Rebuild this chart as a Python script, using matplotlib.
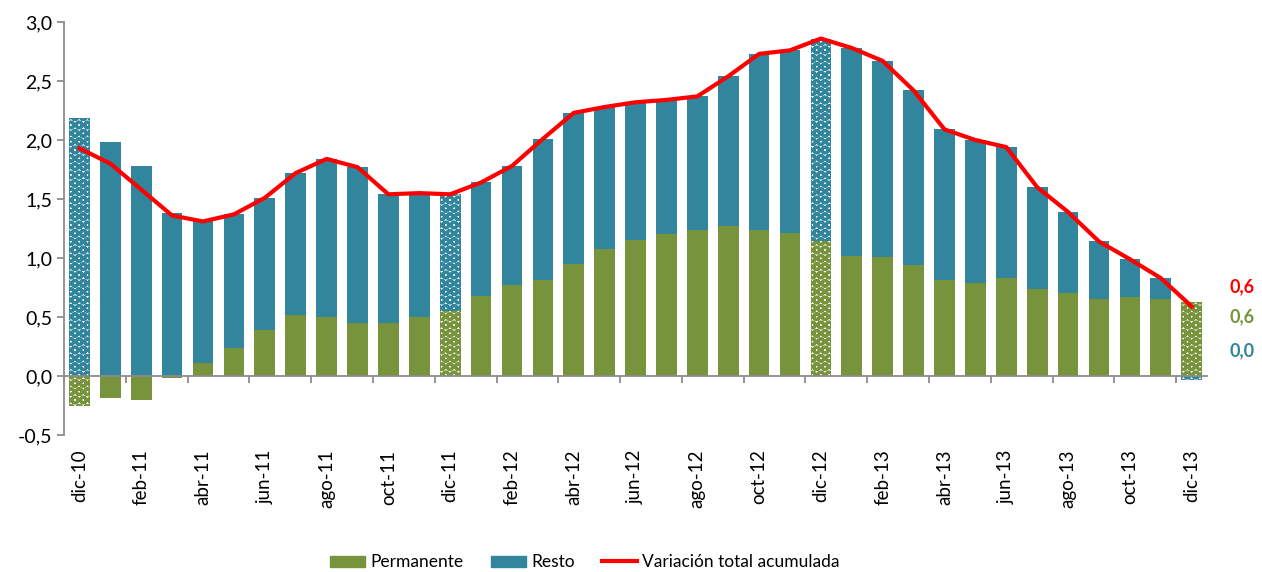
import matplotlib
matplotlib.use("Agg")
import matplotlib.pyplot as plt
import numpy as np

# Meses (dic-10 .. dic-13)
months = ["dic-10", "ene-11", "feb-11", "mar-11", "abr-11", "may-11", "jun-11",
          "jul-11", "ago-11", "sep-11", "oct-11", "nov-11", "dic-11", "ene-12",
          "feb-12", "mar-12", "abr-12", "may-12", "jun-12", "jul-12", "ago-12",
          "sep-12", "oct-12", "nov-12", "dic-12", "ene-13", "feb-13", "mar-13",
          "abr-13", "may-13", "jun-13", "jul-13", "ago-13", "sep-13", "oct-13",
          "nov-13", "dic-13"]

permanente = [-0.25, -0.19, -0.20, -0.02, 0.11, 0.24, 0.39, 0.52, 0.50, 0.45,
              0.45, 0.50, 0.55, 0.68, 0.77, 0.81, 0.95, 1.08, 1.15, 1.20,
              1.24, 1.27, 1.24, 1.21, 1.14, 1.02, 1.01, 0.94, 0.81, 0.79,
              0.83, 0.74, 0.70, 0.655, 0.67, 0.655, 0.625]

resto = [2.19, 1.98, 1.78, 1.38, 1.20, 1.13, 1.12, 1.20, 1.34, 1.32,
         1.09, 1.05, 0.99, 0.96, 1.01, 1.20, 1.28, 1.20, 1.17, 1.14,
         1.13, 1.27, 1.49, 1.55, 1.72, 1.76, 1.66, 1.48, 1.28, 1.21,
         1.11, 0.86, 0.69, 0.485, 0.32, 0.175, -0.03]

total = [1.93, 1.80, 1.58, 1.36, 1.31, 1.37, 1.51, 1.72, 1.84, 1.77,
         1.54, 1.55, 1.54, 1.64, 1.78, 2.01, 2.23, 2.28, 2.32, 2.34,
         2.37, 2.54, 2.73, 2.76, 2.86, 2.78, 2.67, 2.42, 2.09, 2.00,
         1.94, 1.60, 1.39, 1.14, 0.99, 0.83, 0.59]

final_labels = ["0,6", "0,6", "0,0"]

green = "#77933C"
teal = "#31859C"
red = "#FF0000"
gray = "#8C8C8C"

plt.rcParams['font.family'] = ['Lato', 'DejaVu Sans']
plt.rcParams['hatch.linewidth'] = 2.2

fig = plt.figure(figsize=(12.62, 5.72), dpi=100)
ax = fig.add_axes([0.0507, 0.2395, 0.9058, 0.722])

x = np.arange(len(months))
perm = np.array(permanente)
rest = np.array(resto)
rest_bottom = np.where(rest >= 0, np.maximum(perm, 0), np.minimum(perm, 0))
w = 0.67

for i in x:
    dec = months[i].startswith("dic")
    for val, bot, col in [(perm[i], 0, green), (rest[i], rest_bottom[i], teal)]:
        if dec:
            ax.bar(i, val, w, bottom=bot, facecolor="white", edgecolor=col,
                   hatch="OO", linewidth=0, zorder=2)
        else:
            ax.bar(i, val, w, bottom=bot, color=col, linewidth=0, zorder=2)

ax.plot(x, total, color=red, lw=3, zorder=3, solid_joinstyle="round")

ax.set_xlim(-0.5, len(months) - 0.5)
ax.set_ylim(-0.5, 3.0)
ax.set_yticks(np.arange(-0.5, 3.01, 0.5))
ax.set_yticklabels([f"{v:.1f}".replace(".", ",") for v in np.arange(-0.5, 3.01, 0.5)])

ax.set_xticks(x[::2])
ax.set_xticklabels(months[::2])
ax.set_xticks(np.arange(-0.5, len(months), 2), minor=True)
ax.tick_params(axis="x", which="major", length=0, pad=53, labelsize=13.5,
               labelrotation=90)
ax.tick_params(axis="x", which="minor", length=5, color=gray, width=1.3)
ax.tick_params(axis="y", length=5, color=gray, width=1.3, labelsize=14)
for t in ax.get_xticklabels():
    t.set_va("top")

ax.spines["top"].set_visible(False)
ax.spines["right"].set_visible(False)
ax.spines["left"].set_color(gray)
ax.spines["left"].set_linewidth(1.3)
ax.spines["bottom"].set_position(("data", 0))
ax.spines["bottom"].set_color(gray)
ax.spines["bottom"].set_linewidth(1.3)
ax.spines["bottom"].set_zorder(4)

# Valores finales a la derecha
for lbl, yv, col in zip(final_labels, [0.76, 0.50, 0.21], [red, green, teal]):
    ax.text(1.02, yv, lbl, transform=ax.get_yaxis_transform(), color=col,
            fontsize=13, fontweight="bold", va="center", ha="left")

handles = [plt.Rectangle((0, 0), 1, 1, color=green),
           plt.Rectangle((0, 0), 1, 1, color=teal),
           plt.Line2D([], [], color=red, lw=3)]
fig.legend(handles, ["Permanente", "Resto", "Variación total acumulada"],
           loc="center", bbox_to_anchor=(0.4635, 0.017), ncol=3, frameon=False,
           fontsize=12.5, handlelength=2.0, handleheight=0.6, columnspacing=1.6,
           handletextpad=0.3)

fig.savefig("out.png", dpi=100)
